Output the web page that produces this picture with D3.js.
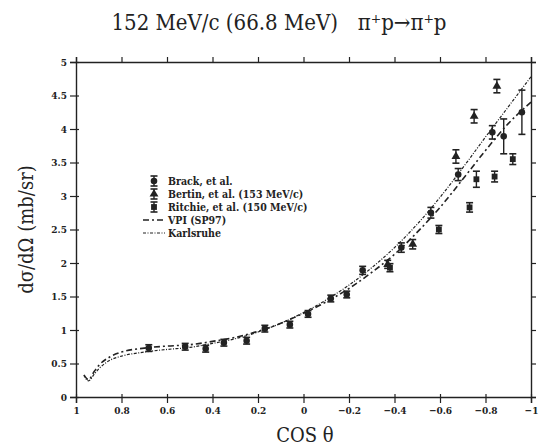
<!DOCTYPE html>
<html>
<head>
<meta charset="utf-8">
<script src="https://cdn.jsdelivr.net/npm/d3@7"></script>
<style>
  body { margin: 0; background: #fff; }
  text { fill: #222; }
</style>
</head>
<body>
<div id="wrapper"></div>
<script>
// data
const brackCos = [0.68, 0.52, 0.43, 0.35, 0.25, 0.17, 0.06, -0.02, -0.12, -0.19, -0.26, -0.43, -0.56, -0.68, -0.83, -0.88, -0.96];
const brackVal = [0.73, 0.75, 0.72, 0.81, 0.84, 1.02, 1.08, 1.24, 1.47, 1.53, 1.89, 2.23, 2.75, 3.32, 3.95, 3.89, 4.25];
const brackErr = [0.04, 0.04, 0.04, 0.04, 0.04, 0.05, 0.05, 0.05, 0.05, 0.05, 0.06, 0.07, 0.08, 0.09, 0.1, 0.26, 0.33];

const bertinCos = [-0.37, -0.48, -0.67, -0.75, -0.85];
const bertinVal = [1.98, 2.28, 3.59, 4.19, 4.64];
const bertinErr = [0.06, 0.07, 0.1, 0.1, 0.1];

const ritchieCos = [-0.38, -0.595, -0.73, -0.76, -0.84, -0.92];
const ritchieVal = [1.93, 2.5, 2.83, 3.25, 3.29, 3.55];
const ritchieErr = [0.06, 0.06, 0.07, 0.12, 0.08, 0.08];

const curveCos = [0.965, 0.945, 0.92, 0.9, 0.85, 0.8, 0.7, 0.6, 0.5, 0.4, 0.3, 0.2, 0.1, 0, -0.1, -0.2, -0.3, -0.4, -0.5, -0.6, -0.7, -0.8, -0.9, -1];
const vpiVal = [0.33, 0.26, 0.38, 0.47, 0.6, 0.67, 0.73, 0.76, 0.78, 0.83, 0.89, 0.98, 1.1, 1.25, 1.42, 1.62, 1.86, 2.13, 2.46, 2.83, 3.25, 3.68, 4.08, 4.4];
const karlVal = [0.32, 0.24, 0.34, 0.42, 0.55, 0.61, 0.67, 0.71, 0.74, 0.8, 0.87, 0.97, 1.1, 1.26, 1.45, 1.67, 1.93, 2.23, 2.58, 2.98, 3.42, 3.88, 4.33, 4.78];

const xTicks = [1, 0.8, 0.6, 0.4, 0.2, 0, -0.2, -0.4, -0.6, -0.8, -1];
const yTicks = [0, 0.5, 1, 1.5, 2, 2.5, 3, 3.5, 4, 4.5, 5];
const legendLabels = ["Brack, et al.", "Bertin, et al. (153 MeV/c)", "Ritchie, et al. (150 MeV/c)", "VPI (SP97)", "Karlsruhe"];

function buildPlot() {
    const dimensions = {
        width: 542,
        height: 448,
        margin: { top: 62, right: 11, bottom: 51, left: 76 },
    };
    dimensions.boundedWidth = dimensions.width - dimensions.margin.left - dimensions.margin.right;
    dimensions.boundedHeight = dimensions.height - dimensions.margin.top - dimensions.margin.bottom;

    const wrapper = d3.select("#wrapper")
        .append("svg")
        .attr("width", dimensions.width)
        .attr("height", dimensions.height);

    const bounds = wrapper.append("g")
        .attr("transform", `translate(${dimensions.margin.left},${dimensions.margin.top})`);

    const xScale = d3.scaleLinear().domain([1, -1]).range([0, dimensions.boundedWidth]);
    const yScale = d3.scaleLinear().domain([0, 5]).range([dimensions.boundedHeight, 0]);

    const tickFont = "bold 10px 'DejaVu Serif'";

    // axes: ticks outward on all four sides
    const xAxis = bounds.append("g")
        .attr("transform", `translate(0,${dimensions.boundedHeight})`)
        .call(d3.axisBottom(xScale).tickValues(xTicks).tickSize(6).tickPadding(4)
            .tickFormat(d => String(d).replace("-", "\u2212")));
    const yAxis = bounds.append("g")
        .call(d3.axisLeft(yScale).tickValues(yTicks).tickSize(6).tickPadding(3).tickFormat(d => d));
    const topAxis = bounds.append("g")
        .call(d3.axisTop(xScale).tickValues(xTicks).tickSize(5).tickFormat(""));
    const rightAxis = bounds.append("g")
        .attr("transform", `translate(${dimensions.boundedWidth},0)`)
        .call(d3.axisRight(yScale).tickValues(yTicks).tickSize(5).tickFormat(""));

    [xAxis, yAxis, topAxis, rightAxis].forEach(a => {
        a.select(".domain").attr("stroke", "#222").attr("stroke-width", 1.4);
        a.selectAll(".tick line").attr("stroke", "#222").attr("stroke-width", 1.2);
        a.selectAll("text").style("font", tickFont).style("font-stretch", "condensed").attr("fill", "#222");
    });
    // left tick marks cross the axis a little
    yAxis.selectAll(".tick line").attr("x2", 3).attr("x1", -6);
    xAxis.selectAll(".tick line").attr("y1", -3);

    // model curves
    const curveData = curveCos.map((c, i) => ({ c, vpi: vpiVal[i], karl: karlVal[i] }));
    const vpiLine = d3.line().x(d => xScale(d.c)).y(d => yScale(d.vpi)).curve(d3.curveMonotoneX);
    const karlLine = d3.line().x(d => xScale(d.c)).y(d => yScale(d.karl)).curve(d3.curveMonotoneX);

    bounds.append("path")
        .attr("d", vpiLine(curveData.slice().reverse()))
        .attr("fill", "none")
        .attr("stroke", "#222")
        .attr("stroke-width", 1.6)
        .attr("stroke-dasharray", "6,3,2,3");
    bounds.append("path")
        .attr("d", karlLine(curveData.slice().reverse()))
        .attr("fill", "none")
        .attr("stroke", "#222")
        .attr("stroke-width", 1.2)
        .attr("stroke-dasharray", "3,1.5,1,1.5");

    // data points with error bars
    const series = [
        { cos: brackCos, val: brackVal, err: brackErr, shape: d3.symbolCircle },
        { cos: bertinCos, val: bertinVal, err: bertinErr, shape: d3.symbolTriangle },
        { cos: ritchieCos, val: ritchieVal, err: ritchieErr, shape: d3.symbolSquare },
    ];

    function drawMarker(g, x, y, yLo, yHi, shape) {
        g.append("line").attr("x1", x).attr("x2", x).attr("y1", yLo).attr("y2", yHi)
            .attr("stroke", "#222").attr("stroke-width", 1.4);
        [yLo, yHi].forEach(yy => g.append("line")
            .attr("x1", x - 3.5).attr("x2", x + 3.5).attr("y1", yy).attr("y2", yy)
            .attr("stroke", "#222").attr("stroke-width", 1.6));
        g.append("path")
            .attr("d", d3.symbol().type(shape).size(34)())
            .attr("transform", `translate(${x},${y})`)
            .attr("fill", "#222");
    }

    const points = bounds.append("g");
    series.forEach(s => {
        s.cos.forEach((c, i) => {
            const x = xScale(c);
            const y = yScale(s.val[i]);
            const lo = yScale(s.val[i] - Math.max(s.err[i], 0.05));
            const hi = yScale(s.val[i] + Math.max(s.err[i], 0.05));
            drawMarker(points, x, y, lo, hi, s.shape);
        });
    });

    // legend
    const legend = wrapper.append("g").attr("transform", "translate(143,181)");
    const legendFont = "bold 10.5px 'DejaVu Serif'";
    legendLabels.forEach((label, i) => {
        const row = legend.append("g").attr("transform", `translate(0,${i * 13})`);
        if (i < 3) {
            drawMarker(row, 11, 0, 5, -5, series[i].shape);
        } else {
            row.append("line")
                .attr("x1", 0).attr("x2", 22).attr("y1", 0).attr("y2", 0)
                .attr("stroke", "#222")
                .attr("stroke-width", i === 3 ? 1.6 : 1.2)
                .attr("stroke-dasharray", i === 3 ? "6,3,2,3" : "3,1.5,1,1.5");
        }
        row.append("text")
            .attr("x", 25)
            .attr("y", 4)
            .style("font", legendFont)
            .style("font-stretch", "condensed")
            .text(label);
    });

    // title and axis labels
    wrapper.append("text")
        .attr("x", 279)
        .attr("y", 30)
        .attr("text-anchor", "middle")
        .style("font-family", "'DejaVu Serif'")
        .style("font-size", "22px")
        .style("font-stretch", "condensed")
        .text("152 MeV/c (66.8 MeV)\u2002\u2002\u03c0\u207ap\u2192\u03c0\u207ap");

    wrapper.append("text")
        .attr("transform", `translate(33,${dimensions.margin.top + dimensions.boundedHeight / 2}) rotate(-90)`)
        .attr("text-anchor", "middle")
        .style("font-family", "'DejaVu Serif'")
        .style("font-size", "20px")
        .style("font-stretch", "condensed")
        .text("d\u03c3/d\u03a9 (mb/sr)");

    wrapper.append("text")
        .attr("x", 305)
        .attr("y", 442)
        .attr("text-anchor", "middle")
        .style("font-family", "'DejaVu Serif'")
        .style("font-size", "20px")
        .style("font-stretch", "condensed")
        .text("COS \u03b8");
}

buildPlot();
</script>
</body>
</html>
